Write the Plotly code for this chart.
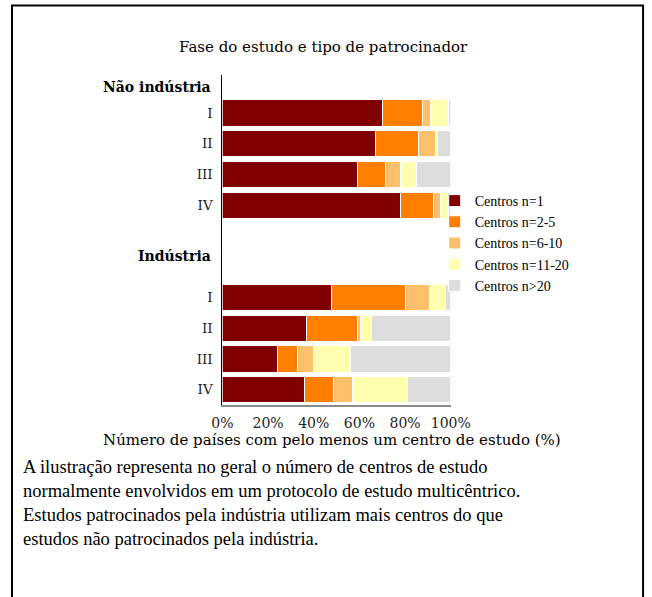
import plotly.graph_objects as go

W, H = 683, 597
# measured mapping of this page in the viewer: page_x = OFF_X + SX * figure_px, page_y = figure_px
OFF_X, SX = 10.0, 0.953

# ---- data ----
phases = ["I", "II", "III", "IV"]
groups = ["Não indústria", "Indústria"]
series_names = ["Centros n=1", "Centros n=2-5", "Centros n=6-10", "Centros n=11-20", "Centros n>20"]
colors = ["#800000", "#FF8000", "#FFC06C", "#FFFFAF", "#DDDDDD"]

# percentages per phase (I, II, III, IV)
nao_n1 = [70, 67, 59, 78]
nao_n2_5 = [17.5, 19, 12.5, 14.5]
nao_n6_10 = [3.5, 7.5, 6.7, 3]
nao_n11_20 = [8, 0.8, 7, 3.3]
nao_n20 = [1, 5.7, 14.8, 1.2]

ind_n1 = [48, 37, 24, 36]
ind_n2_5 = [32, 22, 9, 12.5]
ind_n6_10 = [10.5, 1.5, 7, 8.5]
ind_n11_20 = [7.3, 5, 16.2, 24]
ind_n20 = [2.2, 34.5, 43.8, 19]

x_ticks = [0, 20, 40, 60, 80, 100]
title_text = "Fase do estudo e tipo de patrocinador"
x_title = "Número de países com pelo menos um centro de estudo (%)"
caption = ("A ilustração representa no geral o número de centros de estudo<br>"
           "normalmente envolvidos em um protocolo de estudo multicêntrico.<br>"
           "Estudos patrocinados pela indústria utilizam mais centros do que<br>"
           "estudos não patrocinados pela indústria.")

nao = [nao_n1, nao_n2_5, nao_n6_10, nao_n11_20, nao_n20]
ind = [ind_n1, ind_n2_5, ind_n6_10, ind_n11_20, ind_n20]

# row positions: group 1 rows 0..3, group 2 rows 6..9
pos_nao = list(range(len(phases)))
pos_ind = [p + 6 for p in pos_nao]


def px_x(p):
    return (p - OFF_X) / (SX * W)


def px_y(p):
    return 1 - p / H


fig = go.Figure()
for k, name in enumerate(series_names):
    fig.add_trace(go.Bar(
        y=pos_nao + pos_ind, x=nao[k] + ind[k], orientation="h", name=name,
        width=0.85, marker=dict(color=colors[k], line=dict(color="white", width=1)),
    ))

serif = "DejaVu Serif"
times = "Liberation Serif"

fig.update_layout(
    width=W, height=H, barmode="stack",
    paper_bgcolor="white", plot_bgcolor="white",
    margin=dict(l=0, r=0, t=0, b=0),
    legend=dict(x=px_x(433), y=px_y(185), xanchor="left", yanchor="top", traceorder="normal",
                font=dict(family=times, size=14, color="black"), bgcolor="rgba(0,0,0,0)"),
    xaxis=dict(domain=[px_x(221), px_x(449)], range=[0, 100], tickvals=x_ticks,
               ticktext=[f"{v}%" for v in x_ticks], showgrid=False, zeroline=False,
               showline=True, linecolor="#8a8a8a", linewidth=2, ticks="", ticklabelstandoff=4,
               tickfont=dict(family=serif, size=14, color="#222"), fixedrange=True),
    yaxis=dict(domain=[px_y(405), px_y(75)], range=[9.496, -1.236],
               tickvals=pos_nao + pos_ind, ticktext=phases + phases, showgrid=False,
               zeroline=False, showline=True, linecolor="black", linewidth=1, ticks="",
               ticklabelstandoff=6, tickfont=dict(family=serif, size=13.5, color="#222"),
               fixedrange=True),
    annotations=[
        dict(text=title_text, x=px_x(322), y=px_y(47), xref="paper", yref="paper",
             xanchor="center", yanchor="middle", showarrow=False,
             font=dict(family=serif, size=15, color="black")),
        dict(text="<b>" + groups[0] + "</b>", x=px_x(212), y=px_y(87), xref="paper", yref="paper",
             xanchor="right", yanchor="middle", showarrow=False,
             font=dict(family=serif, size=14, color="black")),
        dict(text="<b>" + groups[1] + "</b>", x=px_x(212), y=px_y(256), xref="paper", yref="paper",
             xanchor="right", yanchor="middle", showarrow=False,
             font=dict(family=serif, size=14, color="black")),
        dict(text=x_title, x=px_x(330), y=px_y(440), xref="paper", yref="paper",
             xanchor="center", yanchor="middle", showarrow=False,
             font=dict(family=serif, size=15, color="black")),
        dict(text=caption, x=px_x(20), y=px_y(467), xref="paper", yref="paper",
             xanchor="left", yanchor="top", align="left", showarrow=False, yshift=12,
             font=dict(family=times, size=18.5, color="black")),
    ],
    shapes=[
        dict(type="path", xref="paper", yref="paper",
             path=(f"M {px_x(11)},0 L {px_x(11)},{px_y(5.5)} "
                   f"L {px_x(641)},{px_y(5.5)} L {px_x(641)},0"),
             line=dict(color="black", width=2)),
    ],
)

fig.write_html("out.html", config={"displayModeBar": False},
               post_script="document.body.style.margin='0';")
